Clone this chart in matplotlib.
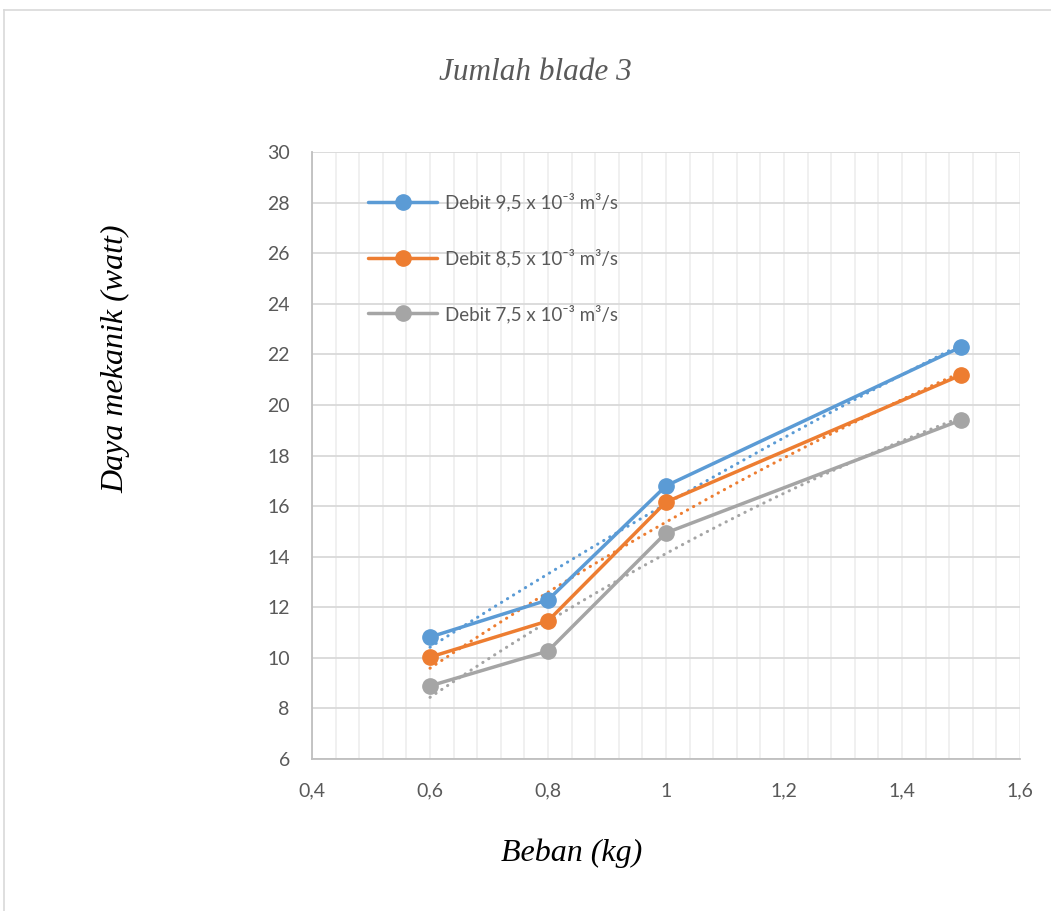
import numpy as np
import matplotlib
matplotlib.use("Agg")
import matplotlib.pyplot as plt
from matplotlib.ticker import MultipleLocator, FuncFormatter
from matplotlib.lines import Line2D

# Beban (kg) and mechanical power (watt) for three flow rates
beban = [0.6, 0.8, 1.0, 1.5]
daya_95 = [10.82, 12.29, 16.80, 22.29]
daya_85 = [10.03, 11.46, 16.16, 21.18]
daya_75 = [8.89, 10.27, 14.94, 19.40]

series_labels = [
    "Debit 9,5 x 10\u207b\u00b3 m\u00b3/s",
    "Debit 8,5 x 10\u207b\u00b3 m\u00b3/s",
    "Debit 7,5 x 10\u207b\u00b3 m\u00b3/s",
]
series_colors = ["#5B9BD5", "#ED7D31", "#A5A5A5"]

title_text = "Jumlah blade 3"
xlabel_text = "Beban (kg)"
ylabel_text = "Daya mekanik (watt)"

tick_font = ["Lato", "DejaVu Sans"]
tick_color = "#595959"

fig = plt.figure(figsize=(10.51, 9.11), dpi=100)
ax = fig.add_axes([312 / 1051, 1 - 759 / 911, (1020 - 312) / 1051, (759 - 152) / 911])

# outer chart border
fig.add_artist(Line2D([4 / 1051, 4 / 1051], [0, 1 - 10 / 911], transform=fig.transFigure,
                      color="#d9d9d9", lw=1.2))
fig.add_artist(Line2D([4 / 1051, 1], [1 - 10 / 911, 1 - 10 / 911], transform=fig.transFigure,
                      color="#d9d9d9", lw=1.2))

x = np.array(beban)
for ys, lab, col in zip([daya_95, daya_85, daya_75], series_labels, series_colors):
    ax.plot(beban, ys, color=col, lw=2.5, marker="o", markersize=11, label=lab,
            solid_capstyle="round", zorder=4)
    # second-order polynomial trendline over the measured range
    coef = np.polyfit(x, np.array(ys), 2)
    xt = np.linspace(x.min(), x.max(), 200)
    ax.plot(xt, np.polyval(coef, xt), color=col, lw=2.2, linestyle=(0, (0.1, 2.2)),
            dash_capstyle="round", zorder=3)

ax.set_xlim(0.4, 1.6)
ax.set_ylim(6, 30)
ax.xaxis.set_major_locator(MultipleLocator(0.2))
ax.xaxis.set_minor_locator(MultipleLocator(0.04))
ax.yaxis.set_major_locator(MultipleLocator(2))


def comma_fmt(v, pos):
    s = ("%.1f" % v).rstrip("0").rstrip(".")
    return s.replace(".", ",")


ax.xaxis.set_major_formatter(FuncFormatter(comma_fmt))
ax.yaxis.set_major_formatter(FuncFormatter(lambda v, p: "%d" % round(v)))

ax.grid(which="major", axis="y", color="#d9d9d9", lw=1.3, zorder=0)
ax.grid(which="both", axis="x", color="#efefef", lw=1.3, zorder=0)
ax.set_axisbelow(True)
for side in ["top", "right"]:
    ax.spines[side].set_visible(False)
for side in ["left", "bottom"]:
    ax.spines[side].set_color("#bfbfbf")
    ax.spines[side].set_linewidth(1.3)

ax.tick_params(which="both", length=0, colors=tick_color, labelsize=14)
ax.tick_params(axis="x", pad=17)
ax.tick_params(axis="y", pad=16)
for lbl in ax.get_xticklabels() + ax.get_yticklabels():
    lbl.set_family(tick_font)

fig.text(535 / 1051, 1 - 72 / 911, title_text, ha="center", va="center",
         fontsize=22.5, style="italic", family="Liberation Serif", color="#595959")
fig.text(572 / 1051, 1 - 853 / 911, xlabel_text, ha="center", va="center",
         fontsize=23, style="italic", family="Liberation Serif", color="black")
fig.text(116 / 1051, 1 - 359 / 911, ylabel_text, ha="center", va="center", rotation=90,
         fontsize=23, style="italic", family="Liberation Serif", color="black")

leg = ax.legend(loc="upper left", bbox_to_anchor=(0.055, 0.960), frameon=False,
                prop={"family": tick_font, "size": 13.5}, handlelength=3.7,
                labelspacing=1.97, handletextpad=0.43, labelcolor=tick_color)

fig.savefig("out.png", dpi=100, facecolor="white")
